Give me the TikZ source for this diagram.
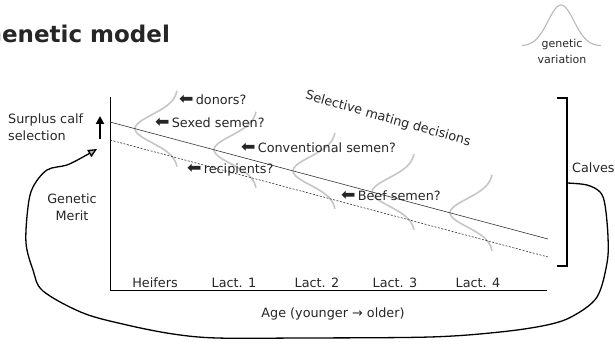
\documentclass[tikz,border=0pt]{standalone}
\usepackage{fontspec}
\setmainfont{DejaVu Sans}
\usepackage{tikz}
\usetikzlibrary{arrows.meta}
\usetikzlibrary{positioning}
\tikzstyle{axe}=[black,line width=1pt]
\tikzstyle{merit}=[black!80,line width=0.6pt]
\tikzstyle{merit low}=[black!80,line width=0.6pt,dash pattern=on 2pt off 1.5pt]
\tikzstyle{bell}=[gray!45,line width=1.6pt]
\tikzstyle{lab}=[inner sep=0pt,text=black!85,font=\fontsize{12.8}{17}\selectfont]
\tikzstyle{small lab}=[lab,font=\fontsize{11}{16}\selectfont,align=center]
\tikzstyle{bracket}=[black,line width=1.2pt]
\tikzstyle{feedback}=[black,line width=1.3pt,-{Triangle[length=9pt,width=8pt,fill=gray!60]}]
\tikzstyle{surplus}=[black,line width=2.6pt,-{Triangle[length=8pt,width=8pt]}]
\newcommand{\larr}{\scalebox{1.35}[1.3]{⬅}\,}

\begin{document}
\begin{tikzpicture}[x=1pt,y=-1pt]
\clip (0,0) rectangle (615,347);
\node[anchor=base west,inner sep=0pt,text=black!85,
      font=\fontsize{23}{27}\selectfont\bfseries] (title) at (-17,43) {Genetic model};
% genetic variation
\draw[gray!55,line width=1.1pt] plot[domain=522:601,samples=50,variable=\x]
  ({\x},{46-41*exp(-((\x-561)*(\x-561))/338)});
\node[small lab,anchor=north] (gv) at (562,38.6) {genetic\\variation};
% axes
\coordinate (ytop) at (110,97);
\coordinate (origin) at (110,290);
\coordinate (xend) at (547,290);
\draw[axe] (ytop) -- (origin) -- (xend);
% bells along the merit line
\foreach \px in {135,214,293,372,450} {
  \pgfmathsetmacro\py{122+(\px-110)*0.267}
  \draw[bell] plot[domain=-38:38,samples=40,variable=\t]
    ({\px+43*(1-exp(-(\t*\t)/392))},{\py+\t});
}
\coordinate (hi0) at (110,122);
\coordinate (hi1) at (548,239);
\coordinate (lo0) at (110,140);
\coordinate (lo1) at (548,257);
\draw[merit] (hi0) -- (hi1);
\draw[merit low] (lo0) -- (lo1);
% mating options
\node[lab,anchor=base west] (donors) at (179,105) {\larr donors?};
\node[lab,anchor=base west] (sexed) at (155,128) {\larr Sexed semen?};
\node[lab,anchor=base west] (conv) at (241,152.5) {\larr Conventional semen?};
\node[lab,anchor=base west] (recip) at (187,173.5) {\larr recipients?};
\node[lab,anchor=base west] (beef) at (341,200.5) {\larr Beef semen?};
\node[lab,rotate=-16] (mating) at (388,119) {Selective mating decisions};
% age classes
\node[lab,anchor=base] (heifers) at (155,287) {Heifers};
\node[lab,anchor=base] (lact1) at (234,287) {Lact. 1};
\node[lab,anchor=base] (lact2) at (317,287) {Lact. 2};
\node[lab,anchor=base] (lact3) at (395,287) {Lact. 3};
\node[lab,anchor=base] (lact4) at (478,287) {Lact. 4};
\node[lab,anchor=base] (age) at (333,317) {Age (younger → older)};
% left labels
\node[lab,anchor=north west,align=left] (surplus) at (8,113.5) {Surplus calf\\selection};
\node[lab,anchor=north,align=center] (merit) at (72,193.5) {Genetic\\Merit};
\coordinate (up0) at (100,139);
\coordinate (up1) at (100,116);
\draw[surplus] (up0) -- (up1);
% calves
\coordinate (br0) at (557,98);
\coordinate (br1) at (557,266);
\draw[bracket] (br0) -- (567,98) -- (567,266) -- (br1);
\node[lab,anchor=base west] (calves) at (572,173) {Calves};
\coordinate (loopstart) at (567,183);
\coordinate (loopend) at (97,149);
\draw[feedback] plot[smooth,tension=0.55] coordinates {(loopstart) (587,185) (600,192)
  (605,205) (608,237) (607,263) (597,297) (573,316) (547,325) (500,332) (430,337)
  (300,338) (217,338) (173,334) (127,325) (83,313) (43,291) (33,270) (26,243)
  (28,207) (33,187) (47,170) (67,165) (83,157) (loopend)};
\end{tikzpicture}
\end{document}
